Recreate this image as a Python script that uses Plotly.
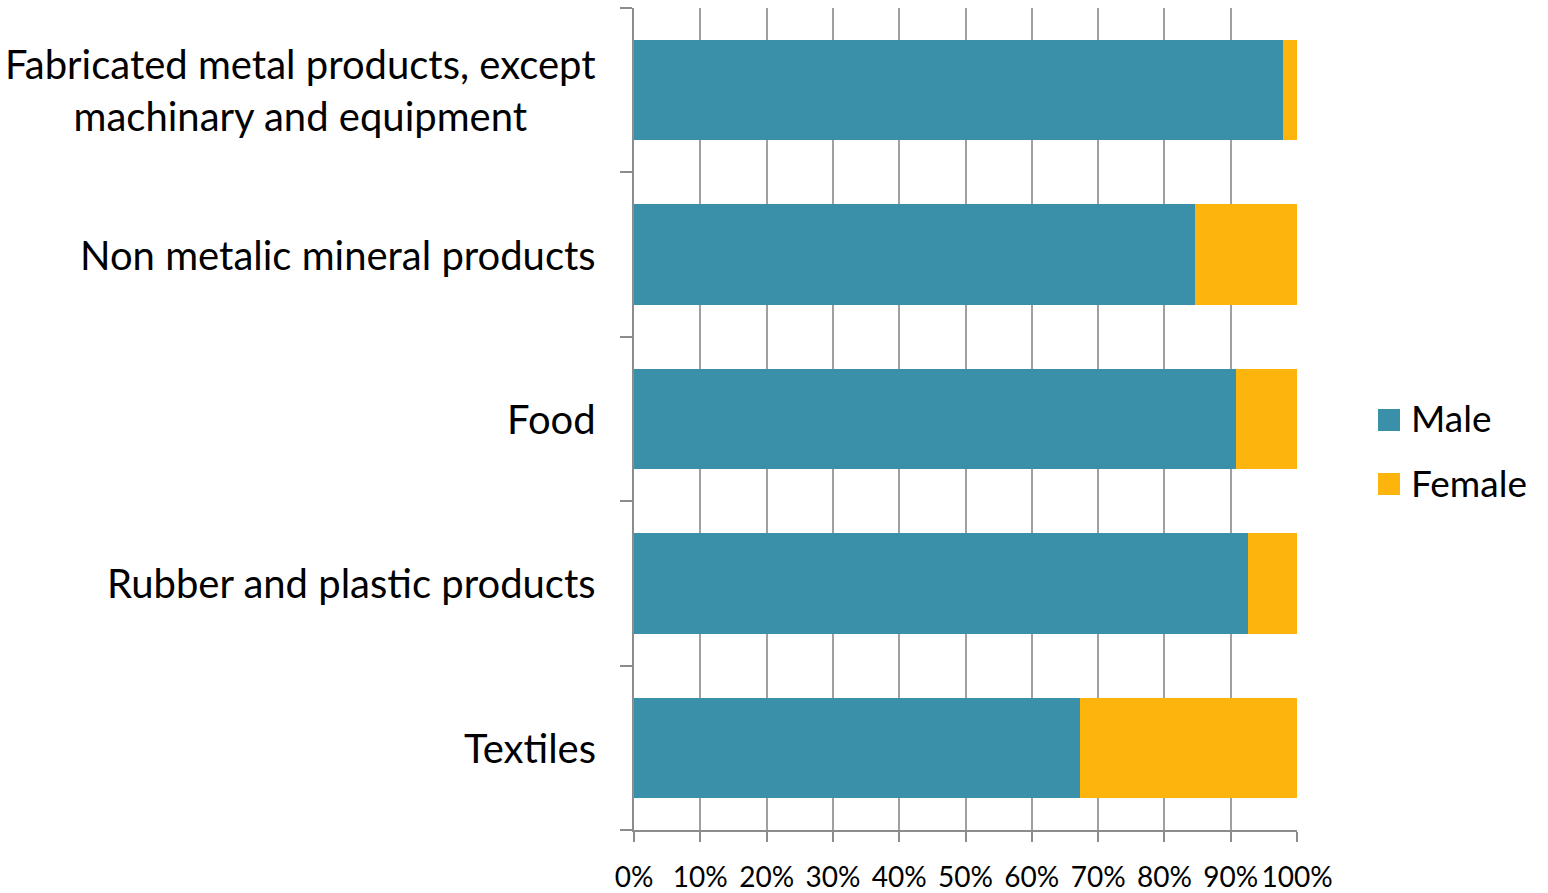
import plotly.graph_objects as go

categories = [
    "Fabricated metal products, except<br>machinary and equipment",
    "Non metalic mineral products",
    "Food",
    "Rubber and plastic products",
    "Textiles",
]
male_share = [97.9, 84.6, 90.8, 92.6, 67.3]
female_share = [round(100 - m, 1) for m in male_share]
series_names = ["Male", "Female"]
x_ticks = [0, 10, 20, 30, 40, 50, 60, 70, 80, 90, 100]
x_tick_labels = [f"{t}%" for t in x_ticks]

MALE_COLOR = "#3A90A8"
FEMALE_COLOR = "#FDB50D"
AXIS_GRAY = "#8C8C8C"
FONT = "Lato"

# plot area in pixels, used to place the legend in paper units
W, H = 1548, 893
L, R, T, B = 634, 251, 8, 63
PW, PH = W - L - R, H - T - B


def px_x(px):
    return (px - L) / PW


def px_y(py):
    return (H - B - py) / PH


fig = go.Figure()
for name, vals, color in zip(series_names, [male_share, female_share],
                             [MALE_COLOR, FEMALE_COLOR]):
    fig.add_trace(go.Bar(
        y=categories, x=vals, orientation="h", name=name,
        marker=dict(color=color, line=dict(width=0)), showlegend=False,
    ))

# legend: large square swatches with labels
for i, (name, color) in enumerate(zip(series_names, [MALE_COLOR, FEMALE_COLOR])):
    cy = 420 + i * 64
    fig.add_shape(
        type="rect", xref="paper", yref="paper",
        x0=px_x(1378), x1=px_x(1400), y0=px_y(cy + 11), y1=px_y(cy - 11),
        fillcolor=color, line=dict(width=0),
    )
    fig.add_annotation(
        x=px_x(1409), xref="paper", y=px_y(cy - 2), yref="paper",
        xanchor="left", yanchor="middle", text=name, showarrow=False,
        font=dict(family=FONT, size=37, color="black"),
    )

# category labels, centred line by line
for cat in categories:
    fig.add_annotation(
        x=0, xref="paper", y=cat, yref="y", xanchor="right", xshift=-36,
        text=cat, showarrow=False, align="center",
        font=dict(family=FONT, size=40, color="black"),
    )

fig.update_layout(
    barmode="stack",
    bargap=0.39,
    width=W, height=H,
    margin=dict(l=L, r=R, t=T, b=B, autoexpand=False),
    plot_bgcolor="white", paper_bgcolor="white",
    font=dict(family=FONT, color="black"),
    showlegend=False,
    xaxis=dict(
        range=[0, 100], tickvals=x_ticks, ticktext=x_tick_labels,
        showgrid=True, gridcolor="#A0A0A0", gridwidth=2,
        showline=True, linecolor=AXIS_GRAY, linewidth=2,
        ticks="outside", ticklen=10, tickwidth=2, tickcolor=AXIS_GRAY,
        tickfont=dict(family=FONT, size=28, color="black"),
        ticklabelstandoff=11, zeroline=False, fixedrange=True,
    ),
    yaxis=dict(
        categoryorder="array", categoryarray=categories[::-1],
        showticklabels=False, tickson="boundaries",
        showline=True, linecolor=AXIS_GRAY, linewidth=2,
        ticks="outside", ticklen=12, tickwidth=2, tickcolor=AXIS_GRAY,
        showgrid=False, zeroline=False, fixedrange=True,
    ),
)

fig.write_html("out.html")
